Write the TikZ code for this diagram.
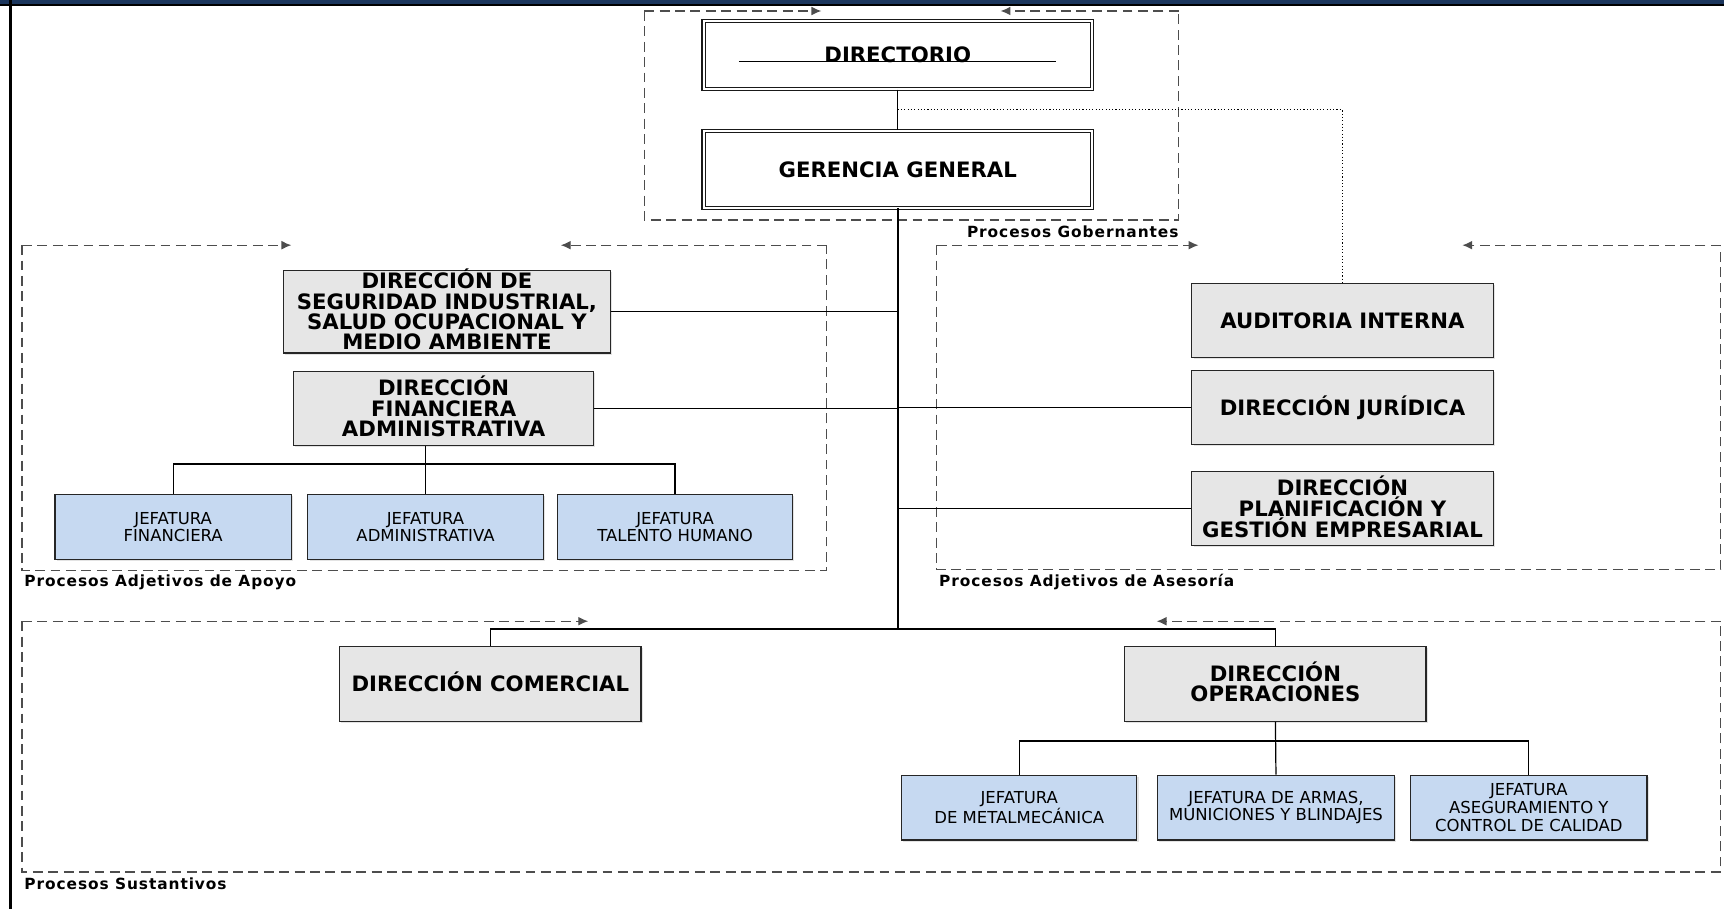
\documentclass[tikz,border=0pt]{standalone}
\usepackage{fontspec}
\setmainfont{DejaVu Sans}
\newfontfamily\lblfont[LetterSpace=6]{DejaVu Sans}
\usetikzlibrary{arrows.meta,shadows,calc}
\definecolor{navy}{HTML}{1B365D}
\definecolor{boxgray}{HTML}{E6E6E6}
\definecolor{boxblue}{HTML}{C6D9F1}
\definecolor{dashgray}{HTML}{4D4D4D}
\newcommand\myttl{\bfseries\fontsize{19.3}{19}\selectfont}
\newcommand\capl[1]{\raisebox{0pt}[0.73em][0pt]{#1}}
\begin{document}
\begin{tikzpicture}[x=1pt,y=-1pt,
  boxshadow/.style={drop shadow={opacity=0.22,shadow xshift=1.5pt,shadow yshift=-1.5pt}},
  gbox/.style={draw=black!85, line width=1.1pt, fill=boxgray, inner sep=0pt, align=center, font=\myttl, boxshadow},
  wbox/.style={draw=black!90, line width=1pt, double=white, double distance=2pt, fill=white, inner sep=0pt, align=center, font=\myttl},
  jbox/.style={draw=black!85, line width=1.1pt, fill=boxblue, inner sep=0pt, align=center, font=\fontsize{15}{16}\selectfont, minimum width=214pt, minimum height=59pt, boxshadow},
  conn/.style={line width=1.1pt, black},
  dashbox/.style={dashgray, line width=1.1pt, dash pattern=on 9pt off 5pt},
  dasharrow/.style={dashbox, -{Latex[length=9pt,width=8pt]}},
  lbl/.style={font=\lblfont\bfseries\fontsize{14}{15}\selectfont, inner sep=0pt}
]
\useasboundingbox (0,0) rectangle (1568,826.7);
% frame
\fill[navy] (0,0) rectangle (1568,3.5);
\fill[black] (0,3.5) rectangle (1568,5.5);
\fill[black] (8.5,0) rectangle (10.5,826.7);

% dashed containers
% Gobernantes
\draw[dashbox] (586,10) -- (586,200) -- (1072,200) -- (1072,10);
\draw[dasharrow] (586,10) -- (747,10);
\draw[dasharrow] (1072,10) -- (910,10);
% Apoyo
\draw[dashbox] (20,223) -- (20,519) -- (752,519) -- (752,223);
\draw[dasharrow] (20,223) -- (265,223);
\draw[dasharrow] (752,223) -- (510,223);
% Asesoria
\draw[dashbox] (852,223) -- (852,518) -- (1565,518) -- (1565,223);
\draw[dasharrow] (852,223) -- (1090,223);
\draw[dasharrow] (1565,223) -- (1330,223);
% Sustantivos
\draw[dashbox] (20,565) -- (20,793) -- (1565,793) -- (1565,565);
\draw[dasharrow] (20,565) -- (535,565);
\draw[dasharrow] (1565,565) -- (1052,565);

% labels
\node[lbl, anchor=east] (lgob) at (1072,211) {Procesos Gobernantes};
\node[lbl, anchor=west] (lapo) at (22,530) {Procesos Adjetivos de Apoyo};
\node[lbl, anchor=west] (lase) at (854,529) {Procesos Adjetivos de Asesoría};
\node[lbl, anchor=west] (lsus) at (22,804) {Procesos Sustantivos};

% boxes
\node[wbox, minimum width=353pt, minimum height=62pt] (dir) at (816.5,50) {DIRECTORIO};
\node[wbox, minimum width=353pt, minimum height=70pt] (gg) at (816.5,154) {GERENCIA GENERAL};

\node[gbox, minimum width=297pt, minimum height=75pt, font=\bfseries\fontsize{19.3}{18.6}\selectfont] (seg) at (406.5,283.5) {\capl{DIRECCIÓN DE}\\SEGURIDAD INDUSTRIAL,\\SALUD OCUPACIONAL Y\\MEDIO AMBIENTE};
\node[gbox, minimum width=273pt, minimum height=67pt] (fin) at (403.5,371.5) {\capl{DIRECCIÓN}\\FINANCIERA\\ADMINISTRATIVA};

\node[jbox, minimum width=215pt] (jf) at (157.5,479.5) {JEFATURA\\FINANCIERA};
\node[jbox] (ja) at (387,479.5) {JEFATURA\\ADMINISTRATIVA};
\node[jbox] (jth) at (614,479.5) {JEFATURA\\TALENTO HUMANO};

\node[gbox, minimum width=274pt, minimum height=67pt] (aud) at (1221,291.5) {AUDITORIA INTERNA};
\node[gbox, minimum width=274pt, minimum height=67pt] (jur) at (1221,370.5) {\capl{DIRECCIÓN JURÍDICA}};
\node[gbox, minimum width=274pt, minimum height=67pt] (pla) at (1221,462.5) {\capl{DIRECCIÓN}\\PLANIFICACIÓN Y\\GESTIÓN EMPRESARIAL};

\node[gbox, minimum width=274pt, minimum height=68pt] (com) at (446,622) {\capl{DIRECCIÓN COMERCIAL}};
\node[gbox, minimum width=274pt, minimum height=68pt] (ope) at (1160,622) {\capl{DIRECCIÓN}\\OPERACIONES};

\node[jbox] (jm) at (927,734.5) {JEFATURA\\DE METALMECÁNICA};
\node[jbox, minimum width=215pt] (jamb) at (1160.5,734.5) {JEFATURA DE ARMAS,\\MUNICIONES Y BLINDAJES};
\node[jbox, minimum width=215pt] (jac) at (1390.5,734.5) {JEFATURA\\ASEGURAMIENTO Y\\CONTROL DE CALIDAD};

% underline in DIRECTORIO
\draw[line width=1pt] ($(dir.center)+(-144.5,6)$) -- ($(dir.center)+(143.5,6)$);

% connectors
\coordinate (dd) at ($(dir.south)!0.5!(gg.north)$);
\coordinate (j1) at (816.5,572);
\coordinate (hb1) at (387,422);
\coordinate (hb2) at (1160,674);

\draw[conn] (dir.south) -- (gg.north);
\draw[line width=1pt, dotted] (dd) -| (aud.north);
\draw[line width=2pt] (gg.south) -- (j1);
\draw[conn] (seg.east) -- (seg.east -| j1);
\draw[conn] (fin.east) -- (fin.east -| j1);
\draw[conn] (jur.west) -- (jur.west -| j1);
\draw[conn] (pla.west) -- (pla.west -| j1);
\draw[conn] (com.north) -- (com.north |- j1) -- (ope.north |- j1) -- (ope.north);

\draw[conn] (fin.south -| ja.north) -- (ja.north);
\draw[conn] (jf.north) -- (jf.north |- hb1) -- (jth.north |- hb1) -- (jth.north);

\draw[conn] (ope.south) -- (jamb.north);
\draw[conn] (jm.north) -- (jm.north |- hb2) -- (jac.north |- hb2) -- (jac.north);
\end{tikzpicture}
\end{document}
